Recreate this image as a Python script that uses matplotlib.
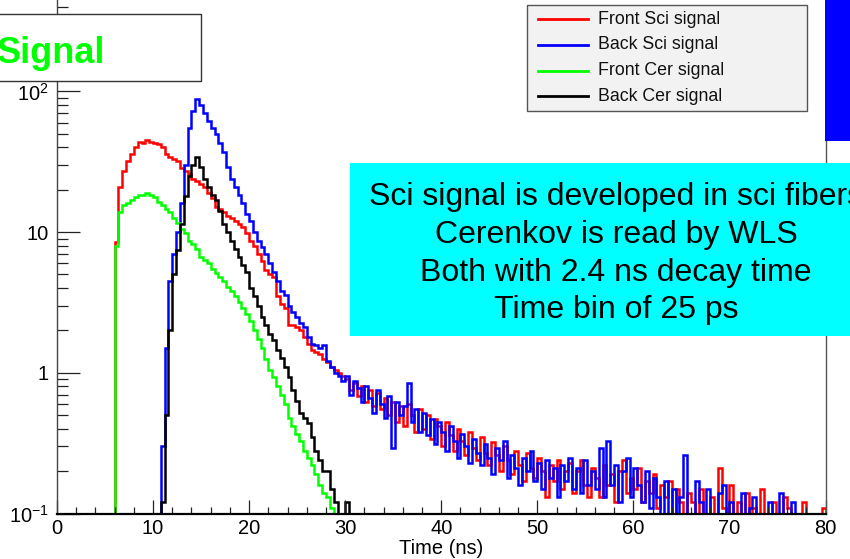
import numpy as np
import matplotlib
matplotlib.use("Agg")
import matplotlib.pyplot as plt
from matplotlib.patches import Rectangle
from matplotlib.lines import Line2D
from matplotlib.transforms import Affine2D
from matplotlib.ticker import FixedLocator, FuncFormatter, MultipleLocator

plt.rcParams['font.family'] = ['Liberation Sans', 'DejaVu Sans']
plt.rcParams['mathtext.fontset'] = 'custom'
plt.rcParams['mathtext.rm'] = 'Liberation Sans'
plt.rcParams['mathtext.it'] = 'Liberation Sans:italic'
plt.rcParams['mathtext.bf'] = 'Liberation Sans:bold'

# histogram contents, 0.4 ns bins
bin_w = 0.4

front_sci_t0 = 6.0
front_sci = [
    8.5, 21, 27, 32, 36,
    40, 44, 43, 45, 44,
    43, 42, 40, 36, 34,
    33, 32, 28.5, 27, 26,
    24, 23, 22, 21, 19,
    17.5, 15, 14.5, 13.8, 13,
    12.5, 12, 11.5, 10.8, 9.8,
    8.7, 8.0, 7.0, 6.2, 5.4,
    5.0, 4.8, 3.5, 3.1, 2.9,
    2.2, 2.2, 2.1, 2.0, 1.8,
    1.6, 1.45, 1.4, 1.35, 1.25,
    1.2, 1.1, 1.05, 1.0, 0.95,
    0.9, 0.75, 0.85, 0.68, 0.8,
    0.62, 0.75, 0.58, 0.72, 0.55,
    0.66, 0.5, 0.62, 0.45, 0.58,
    0.42, 0.6, 0.5, 0.38, 0.55,
    0.4, 0.5, 0.34, 0.47, 0.42,
    0.3, 0.45, 0.36, 0.28, 0.4,
    0.33, 0.26, 0.38, 0.29, 0.24,
    0.35, 0.27, 0.22, 0.32, 0.26,
    0.2, 0.3, 0.24, 0.19, 0.28,
    0.22, 0.17, 0.27, 0.21, 0.18,
    0.25, 0.2, 0.13, 0.22, 0.17,
    0.24, 0.15, 0.2, 0.23, 0.14,
    0.2, 0.24, 0.16, 0.13, 0.21,
    0.18, 0.13, 0.22, 0.16, 0.19,
    0.12, 0.2, 0.24, 0.14, 0.18,
    0.15, 0.21, 0.12, 0.17, 0.14,
    0.19, 0.11, 0.16, 0.13, 0.17,
    0.1, 0.15, 0.12, 0.09, 0.14,
    0.12, 0.08, 0.15, 0.1, 0.07,
    0.13, 0.09, 0.21, 0.11, 0.08,
    0.16, 0.09, 0.12, 0.07, 0.14,
    0.08, 0.11, 0.06, 0.15, 0.09,
    0.07, 0.12, 0.08, 0.06, 0.13,
    0.11, 0.06, 0.09, 0.07, 0.12,
    0.06, 0.08, 0.05, 0.07, 0.11,
]

back_sci_t0 = 10.8
back_sci = [
    0.3, 1.5, 4.5,
    7, 10, 16, 30, 55,
    72, 88, 80, 70, 62,
    55, 50, 43, 37, 29,
    24, 21, 18.5, 16, 13.5,
    12, 10, 8.7, 7.8, 7.0,
    6.0, 5.2, 4.5, 3.8, 3.6,
    3.0, 2.7, 2.5, 2.25, 2.1,
    1.8, 1.6, 1.57, 1.5, 1.57,
    1.22, 1.1, 1.0, 0.95, 0.88,
    0.95, 0.7, 0.88, 0.78, 0.62,
    0.8, 0.66, 0.52, 0.75, 0.6,
    0.48, 0.68, 0.29, 0.62, 0.5,
    0.58, 0.84, 0.45, 0.55, 0.38,
    0.52, 0.36, 0.47, 0.31, 0.45,
    0.38, 0.28, 0.42, 0.33, 0.25,
    0.37, 0.3, 0.23, 0.34, 0.27,
    0.22, 0.31, 0.25, 0.19, 0.29,
    0.24, 0.33, 0.18, 0.26, 0.21,
    0.16, 0.25, 0.2, 0.28, 0.17,
    0.23, 0.15, 0.24, 0.18, 0.21,
    0.13, 0.22, 0.17, 0.25, 0.15,
    0.21, 0.14, 0.24, 0.16, 0.2,
    0.15, 0.29, 0.13, 0.33, 0.16,
    0.22, 0.12, 0.2, 0.25, 0.13,
    0.21, 0.16, 0.12, 0.2, 0.11,
    0.18, 0.13, 0.1, 0.17, 0.08,
    0.15, 0.08, 0.13, 0.26, 0.1,
    0.07, 0.17, 0.12, 0.08, 0.15,
    0.1, 0.07, 0.14, 0.16, 0.08,
    0.12, 0.09, 0.06, 0.14, 0.08,
    0.11, 0.13, 0.07, 0.1, 0.06,
    0.12, 0.07, 0.09, 0.14, 0.06,
    0.08, 0.12, 0.07, 0.1, 0.06,
    0.09, 0.07, 0.05, 0.06, 0.04,
]

front_cer_t0 = 6.0
front_cer = [
    8.0, 14, 15.5, 16.2, 17.0,
    17.7, 18.3, 18.5, 19.1, 18.5,
    17.7, 16.5, 15.5, 14.5, 13.8,
    12.5, 11.6, 10.5, 9.8, 8.7,
    8.2, 7.6, 6.6, 6.3, 6.0,
    5.5, 5.1, 4.8, 4.5, 4.1,
    3.8, 3.5, 3.2, 2.9, 2.6,
    2.35, 2.0, 1.75, 1.5, 1.25,
    1.05, 0.93, 0.8, 0.7, 0.6,
    0.48, 0.42, 0.37, 0.33, 0.28,
    0.25, 0.22, 0.19, 0.16, 0.14,
    0.13, 0.11, 0.09,
]

back_cer_t0 = 10.8
back_cer = [
    0.12, 0.5, 2.0,
    5, 7.5, 11.5, 18, 25,
    30, 34, 29, 24, 21,
    18.5, 16.8, 14.2, 11.5, 10.0,
    8.7, 7.6, 6.6, 5.8, 5.2,
    4.0, 3.5, 3.0, 2.5, 2.2,
    1.9, 1.7, 1.45, 1.28, 1.1,
    0.93, 0.75, 0.63, 0.52, 0.48,
    0.44, 0.35, 0.28, 0.24, 0.2,
    0.2, 0.15, 0.12, 0.09, 0.08,
    0.12,
]

series = [
    ("Front Sci signal", front_sci_t0, front_sci, "#ff0000"),
    ("Back Sci signal", back_sci_t0, back_sci, "#0000ff"),
    ("Front Cer signal", front_cer_t0, front_cer, "#00ff00"),
    ("Back Cer signal", back_cer_t0, back_cer, "#000000"),
]

W, H = 850, 559
fig = plt.figure(figsize=(W / 100, H / 100), dpi=100)
# pixel coordinates measured from the top-left corner
px = Affine2D().scale(1 / W, -1 / H).translate(0, 1) + fig.transFigure

ax = fig.add_axes([57 / W, 1 - 513.5 / H, 768.5 / W, 513.5 / H])
for name, t0, vals, col in series:
    edges = t0 + bin_w * np.arange(len(vals) + 1)
    ax.stairs(vals, edges, baseline=0.01, color=col, lw=1.8)

ax.set_yscale("log")
ax.set_xlim(0, 80)
ax.set_ylim(0.1, 10 ** (513.5 / 140.7 - 1))

ax.xaxis.set_major_locator(MultipleLocator(10))
ax.xaxis.set_minor_locator(MultipleLocator(2))
ax.yaxis.set_major_locator(FixedLocator([0.1, 1, 10, 100]))
minors = [m * d for d in (0.1, 1, 10, 100) for m in range(2, 10)]
ax.yaxis.set_minor_locator(FixedLocator(minors))
ylabels = {0.1: r"$\mathregular{10^{-1}}$", 1: "1", 10: "10", 100: r"$\mathregular{10^{2}}$"}
ax.yaxis.set_major_formatter(FuncFormatter(lambda v, p: ylabels.get(round(v, 3), "")))
ax.yaxis.set_minor_formatter(FuncFormatter(lambda v, p: ""))

ax.tick_params(axis="x", which="major", direction="in", length=10, width=0.9,
               labelsize=14.5, pad=4, color="#222")
ax.tick_params(axis="x", which="minor", direction="in", length=5, width=0.9, color="#222")
ax.tick_params(axis="y", which="major", direction="in", length=16.5, width=0.9,
               labelsize=14.5, pad=6, color="#222")
ax.tick_params(axis="y", which="minor", direction="in", length=8, width=0.9, color="#222")

ax.spines["top"].set_visible(False)
ax.spines["left"].set_color("#444")
ax.spines["left"].set_linewidth(1.0)
ax.spines["right"].set_color("#555")
ax.spines["right"].set_linewidth(1.0)
ax.spines["bottom"].set_color("#000")
ax.spines["bottom"].set_linewidth(1.6)
ax.set_xlabel("Time (ns)", fontsize=14.5, labelpad=1)

# legend box
fig.add_artist(Rectangle((527, 5), 280, 106, transform=px, facecolor="#f2f2f2",
                         edgecolor="#555", lw=1.0, zorder=5))
for i, (name, t0, vals, col) in enumerate(series):
    y = 19 + 25.8 * i
    fig.add_artist(Line2D([538, 588], [y, y], transform=px, color=col, lw=2.0, zorder=6))
    fig.text(598, y, name, transform=px, fontsize=12.8, va="center", ha="left",
             color="#111", zorder=6)

# title box
fig.add_artist(Rectangle((-10, 14), 211, 67, transform=px, facecolor="white",
                         edgecolor="#333", lw=1.0, zorder=5))
fig.text(105, 63, "Signal", transform=px, fontsize=26, fontweight="bold",
         color="#00ff00", ha="right", va="baseline", zorder=6)

# blue block at the top right
fig.add_artist(Rectangle((825, -10), 40, 151, transform=px, facecolor="#0000ff",
                         edgecolor="none", zorder=5))

# cyan note
fig.add_artist(Rectangle((350, 163), 520, 173, transform=px, facecolor="#00ffff",
                         edgecolor="none", zorder=5))
note = ["Sci signal is developed in sci fibers", "Cerenkov is read by WLS",
        "Both with 2.4 ns decay time", "Time bin of 25 ps"]
for i, line in enumerate(note):
    fig.text(616, 205 + 37.8 * i, line, transform=px, fontsize=23, ha="center",
             va="baseline", zorder=6)

fig.savefig("out.png", dpi=100)
